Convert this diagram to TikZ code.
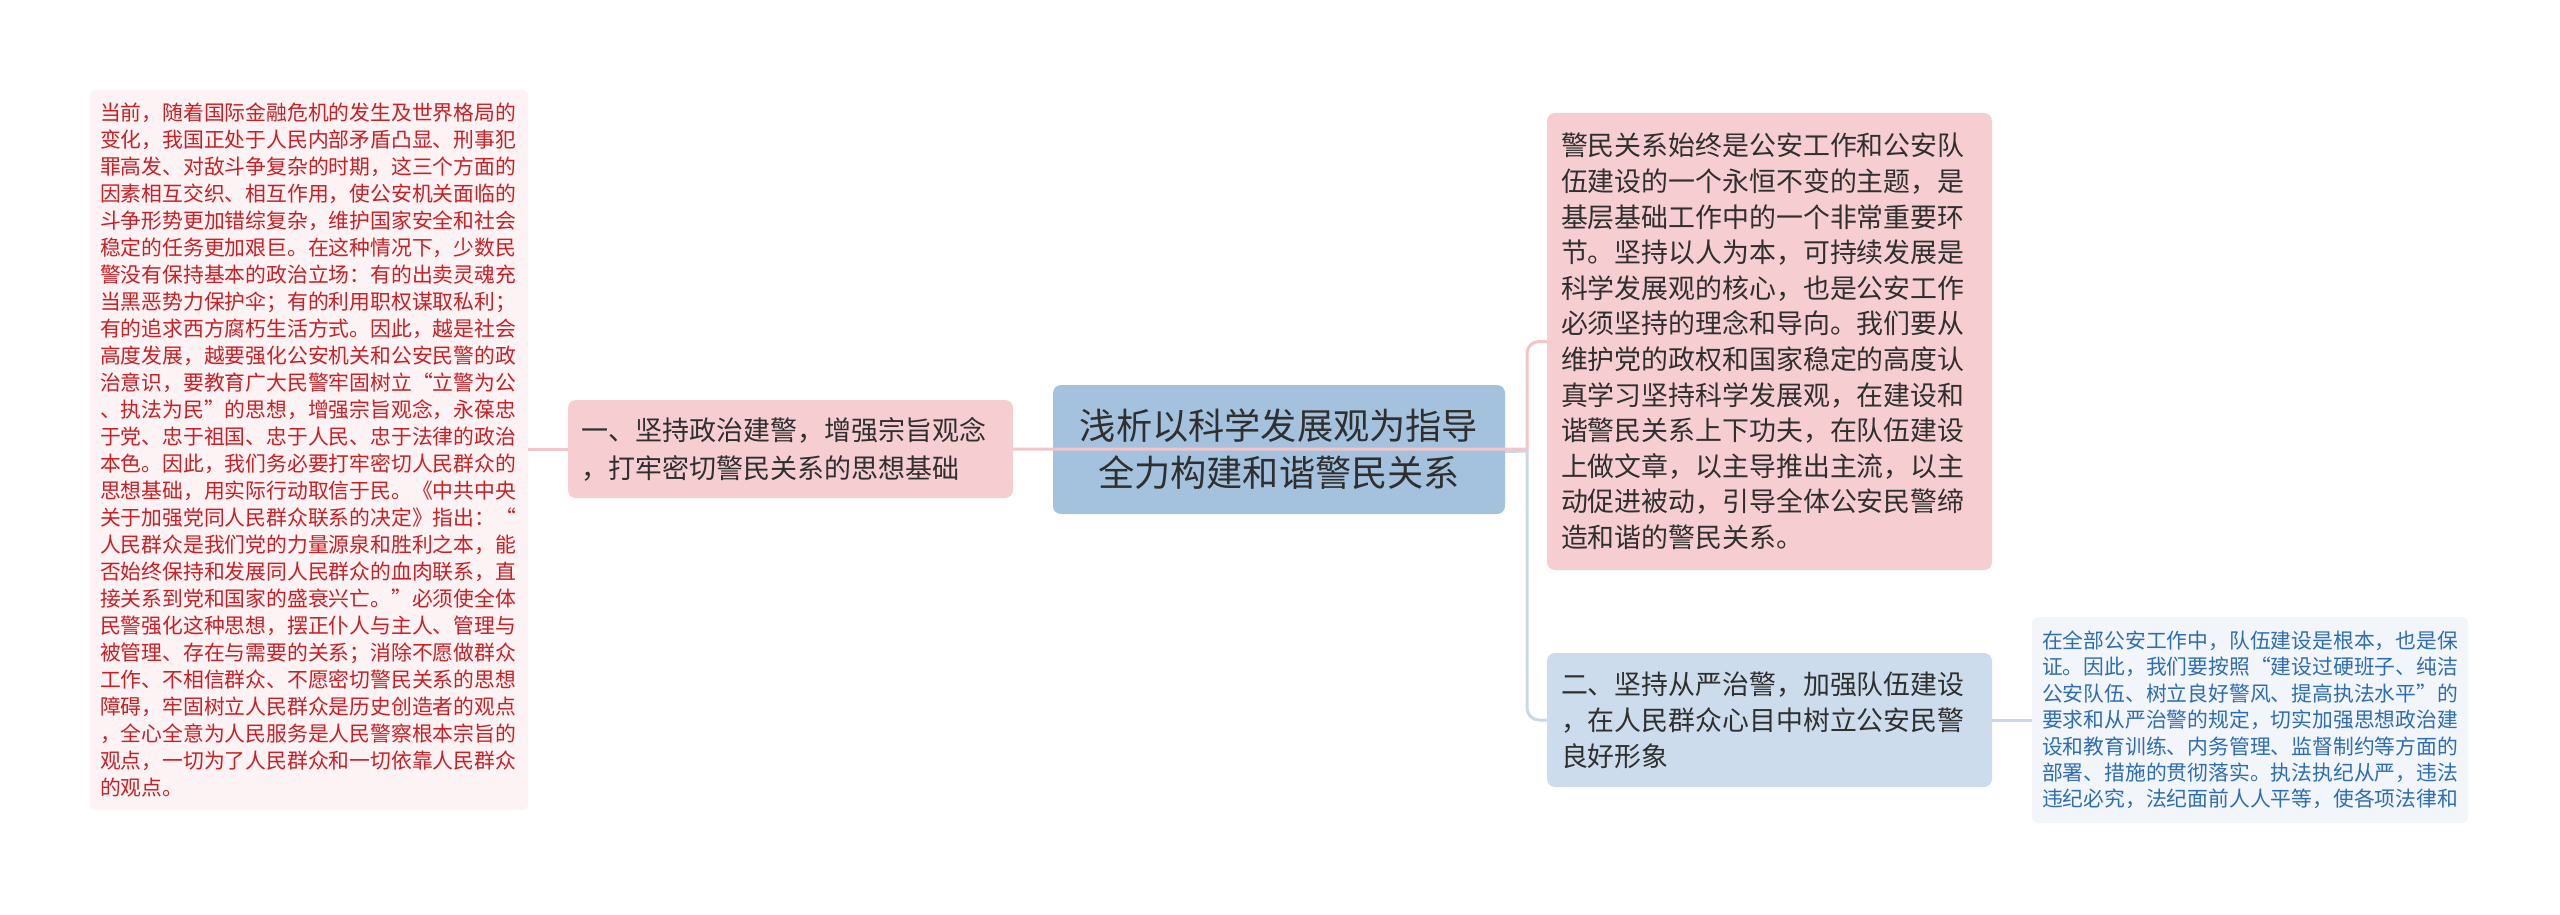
\documentclass[tikz,border=0pt]{standalone}
\usepackage{fontspec}
\newfontfamily\cjk{Noto Sans CJK SC}
\definecolor{pinkfill}{HTML}{F6CED1}
\definecolor{lightpink}{HTML}{FDF3F4}
\definecolor{redtext}{HTML}{C91F25}
\definecolor{centerfill}{HTML}{A4C2DD}
\definecolor{darktext}{HTML}{2F2F2F}
\definecolor{bluefill}{HTML}{CDDCEC}
\definecolor{lightblue}{HTML}{F2F6FB}
\definecolor{bluetext}{HTML}{2E6CB4}
\definecolor{pinkline}{HTML}{F3C5C9}
\definecolor{blueline}{HTML}{C8D8EA}
\begin{document}
\begin{tikzpicture}[x=1pt,y=-1pt,
  box/.style={rounded corners=8pt, align=left, inner ysep=0pt, anchor=center},
  pinkconn/.style={draw=pinkline, line width=3pt},
  blueconn/.style={draw=blueline, line width=3pt}]
\useasboundingbox[fill=white] (0,0) rectangle (2560,915);

\node[box, rounded corners=6pt, fill=lightpink, text=redtext, minimum width=438pt, minimum height=720pt,
  inner xsep=10pt, text width=418pt, font=\cjk\fontsize{20.8pt}{27pt}\selectfont] (lefttext) at (309,450)
{当前，随着国际金融危机的发生及世界格局的\\
变化，我国正处于人民内部矛盾凸显、刑事犯\\
罪高发、对敌斗争复杂的时期，这三个方面的\\
因素相互交织、相互作用，使公安机关面临的\\
斗争形势更加错综复杂，维护国家安全和社会\\
稳定的任务更加艰巨。在这种情况下，少数民\\
警没有保持基本的政治立场：有的出卖灵魂充\\
当黑恶势力保护伞；有的利用职权谋取私利；\\
有的追求西方腐朽生活方式。因此，越是社会\\
高度发展，越要强化公安机关和公安民警的政\\
治意识，要教育广大民警牢固树立“立警为公\\
、执法为民”的思想，增强宗旨观念，永葆忠\\
于党、忠于祖国、忠于人民、忠于法律的政治\\
本色。因此，我们务必要打牢密切人民群众的\\
思想基础，用实际行动取信于民。《中共中央\\
关于加强党同人民群众联系的决定》指出：“\\
人民群众是我们党的力量源泉和胜利之本，能\\
否始终保持和发展同人民群众的血肉联系，直\\
接关系到党和国家的盛衰兴亡。”必须使全体\\
民警强化这种思想，摆正仆人与主人、管理与\\
被管理、存在与需要的关系；消除不愿做群众\\
工作、不相信群众、不愿密切警民关系的思想\\
障碍，牢固树立人民群众是历史创造者的观点\\
，全心全意为人民服务是人民警察根本宗旨的\\
观点，一切为了人民群众和一切依靠人民群众\\
的观点。};

\node[box, fill=pinkfill, text=darktext, minimum width=445pt, minimum height=98pt,
  inner xsep=13pt, text width=419pt, font=\cjk\fontsize{27pt}{38pt}\selectfont] (leftnode) at (790.5,449)
{一、坚持政治建警，增强宗旨观念\\，打牢密切警民关系的思想基础};

\node[box, align=center, fill=centerfill, text=darktext, minimum width=452pt, minimum height=129pt,
  inner xsep=10pt, text width=432pt, font=\cjk\fontsize{36.2pt}{47pt}\selectfont] (center) at (1279,449.5)
{浅析以科学发展观为指导\\全力构建和谐警民关系};

\node[box, fill=pinkfill, text=darktext, minimum width=445pt, minimum height=457pt,
  inner xsep=14pt, text width=417pt, font=\cjk\fontsize{26.9pt}{35.6pt}\selectfont] (pinkbox) at (1769.5,341.5)
{警民关系始终是公安工作和公安队\\
伍建设的一个永恒不变的主题，是\\
基层基础工作中的一个非常重要环\\
节。坚持以人为本，可持续发展是\\
科学发展观的核心，也是公安工作\\
必须坚持的理念和导向。我们要从\\
维护党的政权和国家稳定的高度认\\
真学习坚持科学发展观，在建设和\\
谐警民关系上下功夫，在队伍建设\\
上做文章，以主导推出主流，以主\\
动促进被动，引导全体公安民警缔\\
造和谐的警民关系。};

\node[box, fill=bluefill, text=darktext, minimum width=445pt, minimum height=134pt,
  inner xsep=14pt, text width=417pt, font=\cjk\fontsize{26.9pt}{36pt}\selectfont] (bluebox) at (1769.5,720)
{二、坚持从严治警，加强队伍建设\\，在人民群众心目中树立公安民警\\良好形象};

\node[box, rounded corners=6pt, fill=lightblue, text=bluetext, minimum width=436pt, minimum height=206pt,
  inner xsep=10pt, text width=416pt, font=\cjk\fontsize{20.8pt}{26.4pt}\selectfont] (smallbox) at (2250,720)
{在全部公安工作中，队伍建设是根本，也是保\\
证。因此，我们要按照“建设过硬班子、纯洁\\
公安队伍、树立良好警风、提高执法水平”的\\
要求和从严治警的规定，切实加强思想政治建\\
设和教育训练、内务管理、监督制约等方面的\\
部署、措施的贯彻落实。执法执纪从严，违法\\
违纪必究，法纪面前人人平等，使各项法律和};

\coordinate (trunk) at (1527,449);
\draw[blueconn] ([yshift=-2pt]center.east) -- ([yshift=-2pt]trunk) [rounded corners=12pt] -- (trunk |- bluebox.west) -- (bluebox.west);
\draw[pinkconn] (leftnode.east) -- (trunk) [rounded corners=12pt] -- (trunk |- pinkbox.west) -- (pinkbox.west);
\draw[pinkconn] (leftnode.west) -- (lefttext.east |- leftnode.west);
\draw[blueconn] (bluebox.east) -- (smallbox.west);
\end{tikzpicture}
\end{document}
